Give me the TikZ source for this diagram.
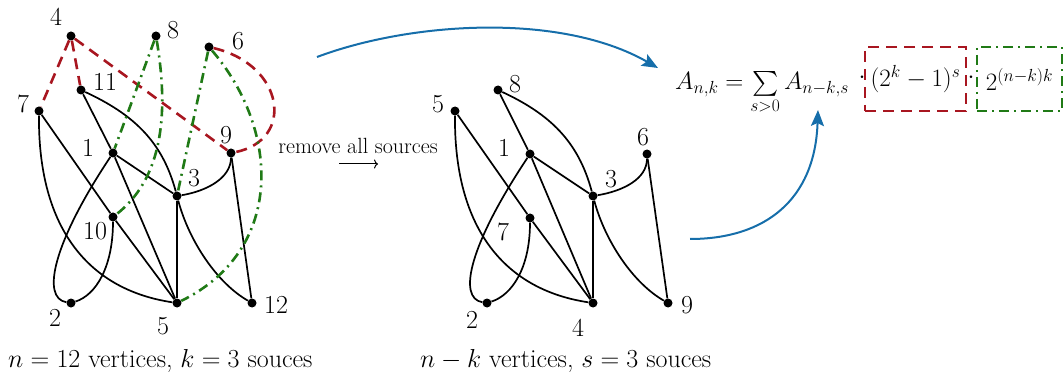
\RequirePackage{fix-cm}
\documentclass[tikz,border=0pt]{standalone}
\usepackage{exscale}
\usepackage{fontspec}
\usetikzlibrary{arrows.meta}
\definecolor{rd}{RGB}{168,22,32}
\definecolor{gr}{RGB}{32,122,22}
\definecolor{bl}{RGB}{22,110,170}
\begin{document}
\begin{tikzpicture}[x=1pt,y=1pt,
  font=\fontsize{26}{30}\selectfont,
  dot/.style={circle,fill=black,inner sep=0pt,minimum size=9pt},
  lbl/.style={inner sep=0pt,font=\fontsize{26}{30}\selectfont},
  edge/.style={line width=1.7pt},
  reddash/.style={draw=rd,line width=2.6pt,dash pattern=on 11pt off 7pt},
  greendd/.style={draw=gr,line width=2.6pt,dash pattern=on 10pt off 5pt on 2pt off 5pt},
  bluearrow/.style={draw=bl,line width=2pt,-{Stealth[length=16pt,width=13pt,inset=3pt]}},
  fml/.style={font=\fontsize{25}{29}\selectfont},
]
\useasboundingbox (0,0) rectangle (1063,-374);

% ---------- left graph ----------
\node[dot] (a4)  at (71,-36) {};
\node[dot] (a8)  at (156,-36) {};
\node[dot] (a6)  at (209,-47) {};
\node[dot] (a11) at (81,-90) {};
\node[dot] (a7)  at (39,-111) {};
\node[dot] (a1)  at (113,-153) {};
\node[dot] (a9)  at (231,-153) {};
\node[dot] (a3)  at (177,-196) {};
\node[dot] (a10) at (113,-217) {};
\node[dot] (a2)  at (71,-303) {};
\node[dot] (a5)  at (177,-303) {};
\node[dot] (a12) at (252,-303) {};

\node[lbl] (la4)  at (56,-17) {4};
\node[lbl] (la8)  at (173,-30) {8};
\node[lbl] (la6)  at (238,-41) {6};
\node[lbl] (la11) at (105,-82) {11};
\node[lbl] (la7)  at (23,-104) {7};
\node[lbl] (la1)  at (88,-148) {1};
\node[lbl] (la9)  at (226,-135) {9};
\node[lbl] (la3)  at (194,-178) {3};
\node[lbl] (la10) at (95,-231) {10};
\node[lbl] (la2)  at (55,-318) {2};
\node[lbl] (la5)  at (163,-326) {5};
\node[lbl] (la12) at (276,-305) {12};

% black edges
\draw[edge] (a11) -- (a1);
\draw[edge] (a11) to[out=-25,in=105] (a3);
\draw[edge] (a7) -- (a10);
\draw[edge] (a10) -- (a5);
\draw[edge] (a7) .. controls +(-1,-119) and +(-87,13) .. (a5);
\draw[edge] (a1) .. controls +(-60,-90) and +(-30,5) .. (a2);
\draw[edge] (a10) .. controls +(0,-50) and +(25,8) .. (a2);
\draw[edge] (a1) -- (a5);
\draw[edge] (a1) -- (a3);
\draw[edge] (a3) -- (a5);
\draw[edge] (a3) .. controls +(30,5) and +(0,-25) .. (a9);
\draw[edge] (a3) .. controls +(12,-45) and +(-35,20) .. (a12);
\draw[edge] (a9) -- (a12);

% red dashed edges
\draw[reddash] (a4) -- (a7);
\draw[reddash] (a4) -- (a11);
\draw[reddash] (a4) -- (a9);
\draw[reddash] (a6) .. controls +(76,-18) and +(64,13) .. (a9);

% green dash-dot edges
\draw[greendd] (a8) -- (a1);
\draw[greendd] (a8) .. controls +(14,-84) and +(47,37) .. (a10);
\draw[greendd] (a6) -- (a3);
\draw[greendd] (a6) .. controls +(71,-83) and +(108,53) .. (a5);

% ---------- middle text ----------
\node[inner sep=0pt,font=\fontsize{22}{26}\selectfont,anchor=base] (rm) at (358,-154) {remove all sources};
\coordinate (rmA) at (339,-164);
\coordinate (rmB) at (378,-164);
\draw[line width=1pt,-{To[length=4pt,width=9pt]}] (rmA) -- (rmB);

% ---------- right graph ----------
\node[dot] (b8) at (498,-90) {};
\node[dot] (b5) at (455,-111) {};
\node[dot] (b1) at (530,-154) {};
\node[dot] (b6) at (647,-154) {};
\node[dot] (b3) at (593,-196) {};
\node[dot] (b7) at (530,-218) {};
\node[dot] (b2) at (487,-303) {};
\node[dot] (b4) at (593,-303) {};
\node[dot] (b9) at (668,-303) {};

\node[lbl] (lb8) at (515,-84) {8};
\node[lbl] (lb5) at (438,-104) {5};
\node[lbl] (lb1) at (504,-148) {1};
\node[lbl] (lb6) at (643,-137) {6};
\node[lbl] (lb3) at (611,-179) {3};
\node[lbl] (lb7) at (503,-232) {7};
\node[lbl] (lb2) at (472,-320) {2};
\node[lbl] (lb4) at (578,-328) {4};
\node[lbl] (lb9) at (687,-305) {9};

\draw[edge] (b8) -- (b1);
\draw[edge] (b8) to[out=-25,in=105] (b3);
\draw[edge] (b5) -- (b7);
\draw[edge] (b7) -- (b4);
\draw[edge] (b5) .. controls +(-1,-119) and +(-87,13) .. (b4);
\draw[edge] (b1) .. controls +(-60,-90) and +(-30,5) .. (b2);
\draw[edge] (b7) .. controls +(0,-50) and +(25,8) .. (b2);
\draw[edge] (b1) -- (b4);
\draw[edge] (b1) -- (b3);
\draw[edge] (b3) -- (b4);
\draw[edge] (b3) .. controls +(30,5) and +(0,-25) .. (b6);
\draw[edge] (b3) .. controls +(12,-45) and +(-35,20) .. (b9);
\draw[edge] (b6) -- (b9);

% ---------- captions ----------
\node[inner sep=0pt,anchor=base west] (cap1) at (8,-367) {$n=12$ vertices, $k=3$ souces};
\node[inner sep=0pt,anchor=base west] (cap2) at (420,-367) {$n-k$ vertices, $s=3$ souces};

% ---------- formula ----------
\node[fml,inner sep=0pt,anchor=base west] (fA) at (675,-90) {$A_{n,k} = \sum\limits_{s>0} A_{n-k,s}$};
\node[fml,inner sep=0pt] (dot1) at (862,-78) {$\cdot$};
\node[fml,reddash,minimum width=101pt,minimum height=64pt,inner sep=0pt] (rbox) at (915.5,-79) {$(2^k-1)^s$};
\node[fml,inner sep=0pt] (dot2) at (971,-78) {$\cdot$};
\node[fml,greendd,minimum width=85pt,minimum height=64pt,inner sep=0pt] (gbox) at (1019.5,-79) {$2^{(n-k)k}$};

% ---------- blue arrows ----------
\coordinate (s1) at (317,-57);
\coordinate (e1) at (658,-68);
\coordinate (s2) at (690,-239);
\coordinate (e2) at (818,-110);
\draw[bluearrow] (s1) .. controls (410,-22) and (560,-12) .. (e1);
\draw[bluearrow] (s2) .. controls (765,-239) and (815,-200) .. (e2);
\end{tikzpicture}
\end{document}
